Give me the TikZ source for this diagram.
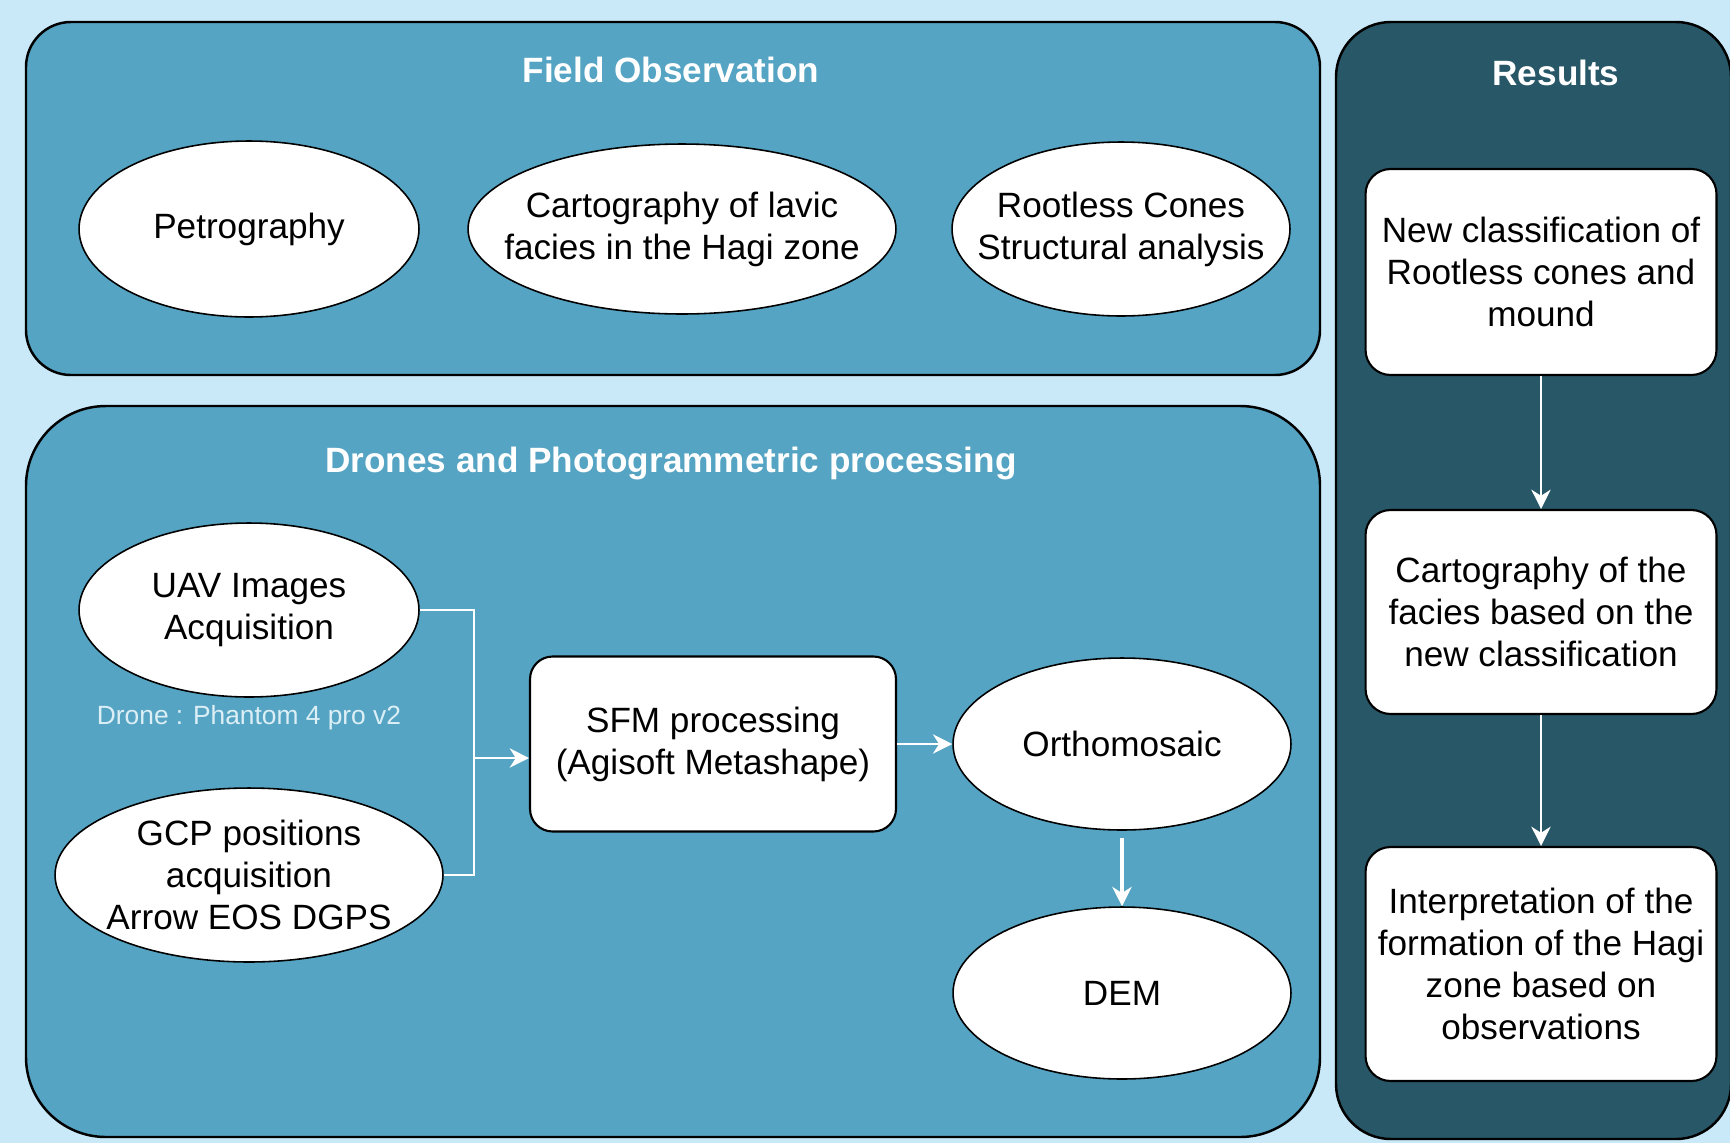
\documentclass[tikz,border=0pt]{standalone}
\usepackage{fontspec}
\setmainfont{Liberation Sans}
\usepackage{tikz}
\usetikzlibrary{arrows, arrows.meta, shapes.geometric, positioning}
\definecolor{skyback}{HTML}{C9E9F8}
\definecolor{panelblue}{HTML}{56A4C3}
\definecolor{paneldark}{HTML}{285767}
\definecolor{notewhite}{HTML}{DCEFF6}

\begin{document}
\begin{tikzpicture}[x=0.02cm, y=-0.02cm, >={Stealth[length=11pt, width=11pt, inset=3.5pt]},
	panel/.style={draw=black, line width=1.4pt, fill=panelblue, rounded corners=0.9cm},
	title/.style={text=white, font=\fontsize{20}{24}\selectfont\bfseries},
	oval/.style={ellipse, draw=black, line width=0.9pt, fill=white, inner xsep=-1cm, inner ysep=-0.5cm, align=center, font=\fontsize{20}{24}\selectfont},
	card/.style={rectangle, rounded corners=0.5cm, draw=black, line width=1.2pt, fill=white, inner sep=2pt, align=center, font=\fontsize{20}{24}\selectfont, minimum width=7.02cm},
	link/.style={draw=white, line width=1.1pt}]
								\useasboundingbox (0,0) rectangle (1730,1143);
								\fill[skyback] (0,0) rectangle (1730,1143);
								
								\draw[panel] (26,22) rectangle (1320,375); \node[title] (fieldtitle) at (671,70) {Field Observation};
								\draw[panel, rounded corners=1.6cm] (26,406) rectangle (1320,1137); \node[title] (dronetitle) at (671,463) {Drones and Photogrammetric processing};
								\draw[panel, fill=paneldark, rounded corners=1.1cm] (1336,22) rectangle (1731,1139); \node[title] (restitle) at (1556,73) {Results};
								
								\node[oval, minimum width=6.8cm, minimum height=3.52cm] (petro) at (249,229) {Petrography};
								\node[oval, minimum width=8.56cm, minimum height=3.4cm] (carto) at (682,229) {Cartography of lavic\\facies in the Hagi zone};
								\node[oval, minimum width=6.76cm, minimum height=3.48cm] (rootless) at (1121,229) {Rootless Cones\\Structural analysis};
								
								\node[oval, minimum width=6.8cm, minimum height=3.48cm] (uav) at (249,610) {UAV Images\\Acquisition};
								\node[text=notewhite, font=\fontsize{15}{18}\selectfont] (drone) at (249,718) {Drone : Phantom 4 pro v2};
								\node[oval, minimum width=7.76cm, minimum height=3.48cm] (gcp) at (249,875) {GCP positions\\acquisition\\Arrow EOS DGPS};
								\node[card, minimum width=7.32cm, minimum height=3.5cm, rounded corners=0.45cm] (sfm) at (713,744) {SFM processing\\(Agisoft Metashape)};
								\node[oval, minimum width=6.76cm, minimum height=3.44cm] (ortho) at (1122,744) {Orthomosaic};
								\node[oval, minimum width=6.76cm, minimum height=3.44cm] (dem) at (1122,993) {DEM};
								
								\coordinate (junc) at (474,758);
								\draw[link] (uav.east) -| (junc); \draw[link] (gcp.east) -| (junc); \draw[link, ->] (junc) -- (sfm.west |- junc);
								\draw[link, ->] (sfm.east) -- (ortho.west);
								\draw[link, ->, line width=2.2pt] ([yshift=-4pt]ortho.south) -- (dem.north);
								
								\node[card, minimum height=4.12cm] (newclass) at (1541,272) {New classification of\\Rootless cones and\\mound};
								\node[card, minimum height=4.08cm] (faciesmap) at (1541,612) {Cartography of the\\facies based on the\\new classification};
								\node[card, minimum height=4.68cm] (interp) at (1541,964) {Interpretation of the\\formation of the Hagi\\zone based on\\observations};
								\draw[link, ->] (newclass.south) -- (faciesmap.north); \draw[link, ->] (faciesmap.south) -- (interp.north);
							\end{tikzpicture}
\end{document}
